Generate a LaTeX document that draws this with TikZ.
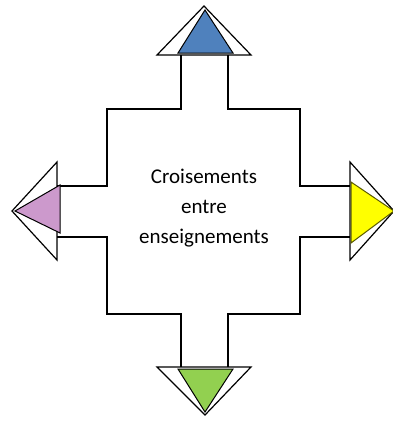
\documentclass[tikz,border=0pt]{standalone}
\usepackage{fontspec}
\setmainfont{Carlito}
\definecolor{headblue}{RGB}{79,129,189}
\definecolor{headmauve}{RGB}{204,153,204}
\definecolor{headyellow}{RGB}{255,255,0}
\definecolor{headgreen}{RGB}{146,208,80}
\definecolor{darkolive}{RGB}{90,90,0}
\begin{document}
\begin{tikzpicture}[
        x=1pt, y=-1pt,
        outline/.style={draw=black, line width=1.2pt, line join=miter},
        headfill/.style={draw=black, line width=1pt, fill=#1},
        textblock/.style={align=center, font=\fontsize{21}{30}\selectfont, inner sep=0pt}
    ]
    \useasboundingbox (0,0) rectangle (392,421);
    % white arrow heads of the cross
    \draw[outline, fill=white] (157,55) -- (204,6) -- (251,55) -- cycle;
    \draw[outline, fill=white] (57,162) -- (12,211) -- (57,260) -- cycle;
    \draw[outline, fill=white] (350,162) -- (394,211) -- (350,260) -- cycle;
    \draw[outline, fill=white] (157,367) -- (205,415) -- (251,367) -- cycle;
    % body of the cross
    \draw[outline] (181,55) -- (181,109) -- (107,109) -- (107,186) -- (57,186);
    \draw[outline] (228,55) -- (228,109) -- (300,109) -- (300,186) -- (350,186);
    \draw[outline] (57,237) -- (107,237) -- (107,314) -- (181,314) -- (181,367);
    \draw[outline] (350,237) -- (300,237) -- (300,314) -- (228,314) -- (228,367);
    % coloured heads
    \draw[headfill=headblue] (178,53) -- (205,10) -- (233,53) -- cycle;
    \draw[headfill=headmauve] (60,185) -- (15,211) -- (60,233) -- cycle;
    \draw[headfill=headyellow, draw=darkolive] (351,182) -- (394,211) -- (351,243) -- cycle;
    \draw[headfill=headgreen] (178,369) -- (205,412) -- (233,369) -- cycle;
    \node[textblock] (centre) at (204,208) {Croisements\\entre\\enseignements};
\end{tikzpicture}
\end{document}
